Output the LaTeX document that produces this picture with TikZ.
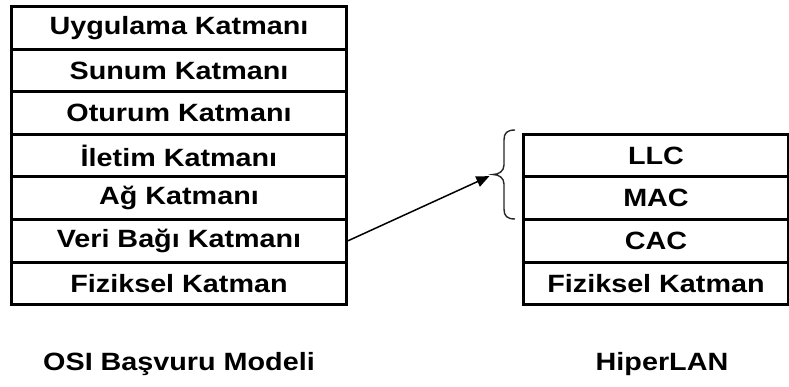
\documentclass[tikz,border=0pt]{standalone}
\usepackage{fontspec}
\setmainfont{Liberation Sans}
\usepackage{graphicx}
\usetikzlibrary{arrows.meta}
% widened bold lettering used in every label
\newcommand\wtext[1]{\scalebox{1.15}[1]{#1}}
\begin{document}
\begin{tikzpicture}[x=1pt,y=-1pt,
  layer/.style={draw, line width=3pt, minimum height=42.6pt, inner sep=0pt,
    anchor=north west, font=\fontsize{25}{30}\selectfont\bfseries},
  osirow/.style={layer, minimum width=335pt},
  hlrow/.style={layer, minimum width=265pt},
  caption/.style={font=\fontsize{25}{30}\selectfont\bfseries},
  link/.style={line width=1.5pt, -{Triangle[length=13pt,width=11pt]}},
  bracket/.style={line width=1.4pt, black!85}]
\useasboundingbox[fill=white] (0,0) rectangle (789,387);

% OSI reference model stack
\node[osirow] (app)  at (10,5)     {\wtext{Uygulama Katmanı}};
\node[osirow] (pres) at (10,47.6)  {\wtext{Sunum Katmanı}};
\node[osirow] (sess) at (10,90.2)  {\wtext{Oturum Katmanı}};
\node[osirow] (trans) at (10,132.8) {\wtext{İletim Katmanı}};
\node[osirow] (net)  at (10,175.4) {\wtext{Ağ Katmanı}};
\node[osirow] (veri) at (10,218)   {\wtext{Veri Bağı Katmanı}};
\node[osirow] (phy)  at (10,260.6) {\wtext{Fiziksel Katman}};

% HiperLAN stack
\node[hlrow] (llc)  at (522,132.8) {\wtext{LLC}};
\node[hlrow] (mac)  at (522,175.4) {\wtext{MAC}};
\node[hlrow] (cac)  at (522,218)   {\wtext{CAC}};
\node[hlrow] (hphy) at (522,260.6) {\wtext{Fiziksel Katman}};

% captions
\node[caption] (osicap) at (179,364) {\wtext{OSI Başvuru Modeli}};
\node[caption] (hlcap)  at (662,364) {\wtext{HiperLAN}};

% brace grouping LLC and MAC
\coordinate (bracetip) at (493,174.5);
\draw[bracket] (515,130) .. controls (507,130) and (504,133) .. (504,140)
  -- (504,165) .. controls (504,171) and (499,174.5) .. (bracetip)
  .. controls (499,174.5) and (504,178) .. (504,184)
  -- (504,209) .. controls (504,216) and (507,219) .. (515,219);

% data link layer maps onto the grouped sublayers
\draw[link, shorten >=4pt] (veri.east) -- (bracetip);
\end{tikzpicture}
\end{document}
